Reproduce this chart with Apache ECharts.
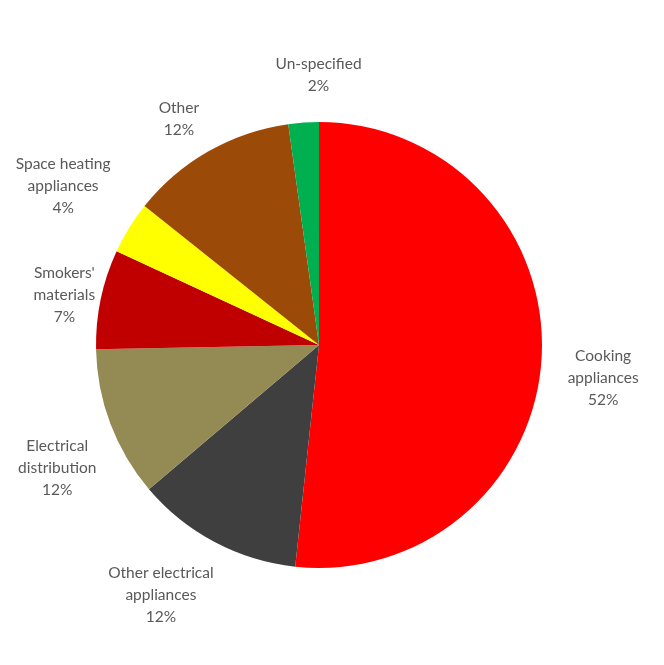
<!DOCTYPE html>
<html>
<head>
    <meta charset="utf-8" />
    <title>Fire causes</title>
    <script src="https://cdn.jsdelivr.net/npm/echarts@6/dist/echarts.min.js"></script>
    <style>
        html, body { margin: 0; padding: 0; background: #fff; }
    </style>
</head>
<body>
<div id="main" style="width: 664px;height:665px;"></div>
<script type="text/javascript">
    // data
    var categories = ['Cooking\nappliances', 'Other electrical\nappliances', 'Electrical\ndistribution',
        'Smokers\'\nmaterials', 'Space heating\nappliances', 'Other', 'Un-specified'];
    var values = [51.7, 12.1, 10.9, 7.2, 3.8, 12.1, 2.2];
    var pctLabels = ['52%', '12%', '12%', '7%', '4%', '12%', '2%'];
    var colors = ['#ff0000', '#3f3f3f', '#948a54', '#c00000', '#ffff00', '#9c4a08', '#00b050'];

    // label fine tuning (px)
    var nudge = [[1, 20], [16, 40], [10, 39], [19, -1], [4, -34], [8, -19], [69, -33]];

    var myChart = echarts.init(document.getElementById('main'));

    var seriesData = values.map(function (v, i) {
        return {
            value: v,
            name: categories[i],
            itemStyle: { color: colors[i] }
        };
    });

    var option = {
        animation: false,
        series: [
            {
                type: 'pie',
                center: [319, 345],
                radius: 223,
                startAngle: 90,
                clockwise: true,
                avoidLabelOverlap: false,
                itemStyle: { borderWidth: 0 },
                label: {
                    show: true,
                    position: 'outside',
                    fontFamily: 'Lato',
                    fontSize: 15.5,
                    lineHeight: 22,
                    color: '#595959',
                    formatter: function (p) {
                        return p.name + '\n' + pctLabels[p.dataIndex];
                    }
                },
                labelLine: { show: false, length: 15, length2: 5 },
                labelLayout: function (p) {
                    var r = p.labelRect;
                    var n = nudge[p.dataIndex];
                    return {
                        x: r.x + r.width / 2 + n[0],
                        y: r.y + r.height / 2 + n[1],
                        align: 'center',
                        verticalAlign: 'middle'
                    };
                },
                data: seriesData
            }
        ]
    };

    myChart.setOption(option);
</script>
</body>
</html>
